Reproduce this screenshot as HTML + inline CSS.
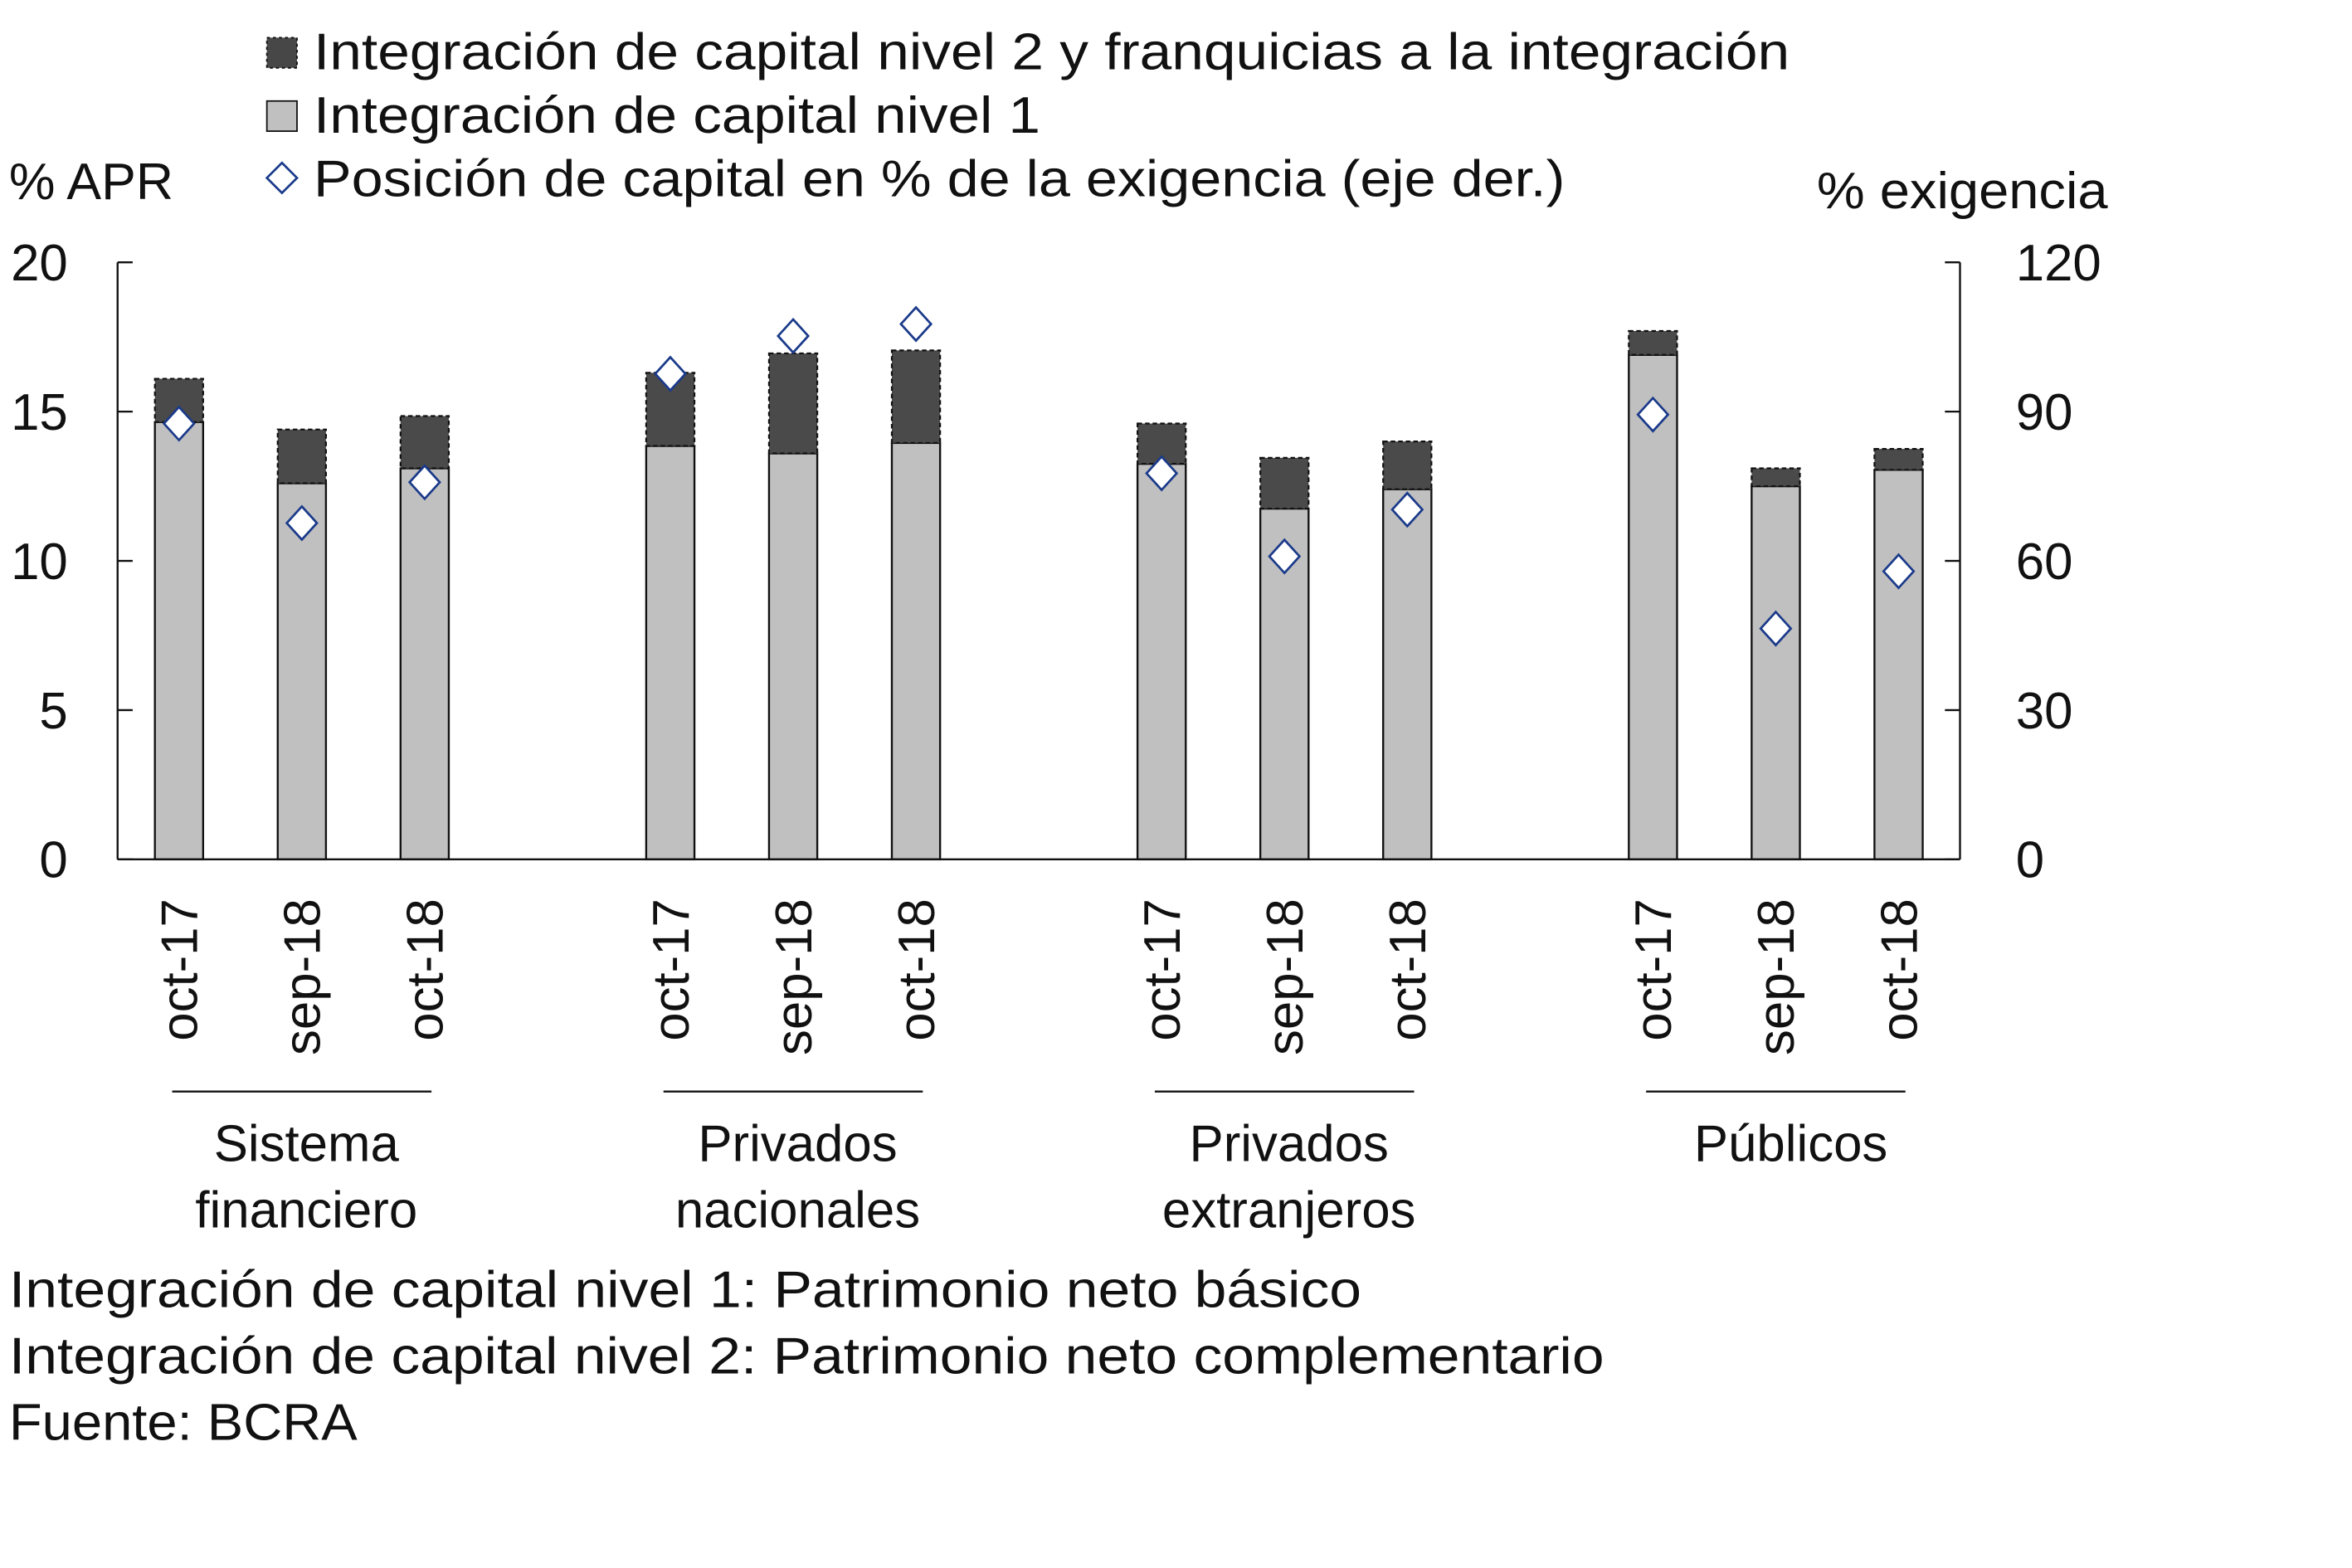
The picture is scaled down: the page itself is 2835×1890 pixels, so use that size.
<!DOCTYPE html>
<html><head><meta charset="utf-8"><style>
html,body{margin:0;padding:0;background:#fff}
svg{display:block}
text{font-family:"Liberation Sans",sans-serif;fill:#111}
</style></head><body>
<svg id="chart" width="2835" height="1890" viewBox="0 0 1560 1040" xmlns="http://www.w3.org/2000/svg">
<g>
 <rect x="177" y="25" width="20" height="20" fill="#474747" stroke="#111" stroke-dasharray="2,2"/>
 <text x="208" y="46" font-size="34" textLength="979" lengthAdjust="spacingAndGlyphs">Integración de capital nivel 2 y franquicias a la integración</text>
 <rect x="177" y="67" width="20" height="20" fill="#c0c0c0" stroke="#111"/>
 <text x="208" y="88" font-size="34" textLength="482" lengthAdjust="spacingAndGlyphs">Integración de capital nivel 1</text>
 <path d="M187 108 L197 118 L187 128 L177 118 Z" fill="#fff" stroke="#1a3a8a" stroke-width="1.5"/>
 <text x="208" y="130" font-size="34" textLength="830" lengthAdjust="spacingAndGlyphs">Posición de capital en % de la exigencia (eje der.)</text>
</g>
<text x="6" y="132" font-size="34" textLength="109" lengthAdjust="spacingAndGlyphs">% APR</text>
<text x="1205" y="138" font-size="34" textLength="193" lengthAdjust="spacingAndGlyphs">% exigencia</text>
<g id="plot"></g>
<g>
 <text x="6" y="867" font-size="34" textLength="897" lengthAdjust="spacingAndGlyphs">Integración de capital nivel 1: Patrimonio neto básico</text>
 <text x="6" y="911" font-size="34" textLength="1058" lengthAdjust="spacingAndGlyphs">Integración de capital nivel 2: Patrimonio neto complementario</text>
 <text x="6" y="955" font-size="34" textLength="231" lengthAdjust="spacingAndGlyphs">Fuente: BCRA</text>
</g>
</svg>
<script>
const groups = [["Sistema","financiero"],["Privados","nacionales"],["Privados","extranjeros"],["Públicos"]];
const periods = ["oct-17","sep-18","oct-18"];
const tier1 = [14.65,12.6,13.1, 13.85,13.6,13.95, 13.25,11.75,12.4, 16.9,12.5,13.05];
const total = [16.1,14.4,14.85, 16.3,16.95,17.05, 14.6,13.45,14.0, 17.7,13.1,13.75];
const position = [87.6,67.6,75.8, 97.6,105.2,107.6, 77.6,60.9,70.3, 89.4,46.4,57.9];
const leftTicks = [0,5,10,15,20];
const rightTicks = [0,30,60,90,120];

const NS="http://www.w3.org/2000/svg";
const plot=document.getElementById('plot');
const X0=78,X1=1300,Y0=570,Y1=174;
const yL=v=>Y0-(v/20)*(Y0-Y1);
const yR=v=>Y0-(v/120)*(Y0-Y1);
const slotW=(X1-X0)/15;
const xc=i=>X0+slotW*(Math.floor(i/3)*4+(i%3)+0.5);
function mk(tag,attrs){const e=document.createElementNS(NS,tag);for(const k in attrs)e.setAttribute(k,attrs[k]);plot.appendChild(e);return e;}

let a=mk('line',{x1:X0,y1:Y1,x2:X0,y2:Y0,stroke:'#111','stroke-width':1.3});


a=mk('line',{x1:X1,y1:Y1,x2:X1,y2:Y0,stroke:'#111','stroke-width':1.3});


leftTicks.forEach(v=>{
 const t=mk('line',{x1:X0,y1:yL(v),x2:X0+10,y2:yL(v),stroke:'#111','stroke-width':1.3});
 
 
 const l=mk('text',{x:45,y:yL(v)+12,'font-size':34,'text-anchor':'end'});l.textContent=v;
 
 
});
rightTicks.forEach(v=>{
 const t=mk('line',{x1:X1-10,y1:yR(v),x2:X1,y2:yR(v),stroke:'#111','stroke-width':1.3});
 
 
 const l=mk('text',{x:1337,y:yR(v)+12,'font-size':34});l.textContent=v;
 
 
});
const bw=32;
tier1.forEach((v,i)=>{
 const x=xc(i)-bw/2;
 const r1=mk('rect',{x:x,y:yL(v),width:bw,height:Y0-yL(v),fill:'#c0c0c0',stroke:'#111','stroke-width':1.3});
 
 
 const r2=mk('rect',{x:x,y:yL(total[i]),width:bw,height:yL(v)-yL(total[i]),fill:'#4a4a4a',stroke:'#111','stroke-width':1.2,'stroke-dasharray':'3,2'});
 
 
});
a=mk('line',{x1:X0,y1:Y0,x2:X1,y2:Y0,stroke:'#111','stroke-width':1.3});


position.forEach((v,i)=>{
 const cx=xc(i),cy=yR(v);
 const d=mk('path',{d:`M${cx} ${cy-11} L${cx+10} ${cy} L${cx} ${cy+11} L${cx-10} ${cy} Z`,fill:'#fff',stroke:'#1a3a8a','stroke-width':1.5});
 
 
 const l=mk('text',{x:0,y:0,'font-size':34,'text-anchor':'end',transform:`translate(${cx+12},596) rotate(-90)`});
 l.textContent=periods[i%3];
 
 
});
groups.forEach((g,gi)=>{
 const c=(xc(gi*3)+xc(gi*3+2))/2;
 const ln=mk('line',{x1:c-86,y1:724,x2:c+86,y2:724,stroke:'#111','stroke-width':1.3});
 
 
 g.forEach((w,k)=>{
  const t=mk('text',{x:c+(gi==3?10:3),y:770+k*44,'font-size':34,'text-anchor':'middle'});t.textContent=w;
  
  
 });
});
</script>
</body></html>
